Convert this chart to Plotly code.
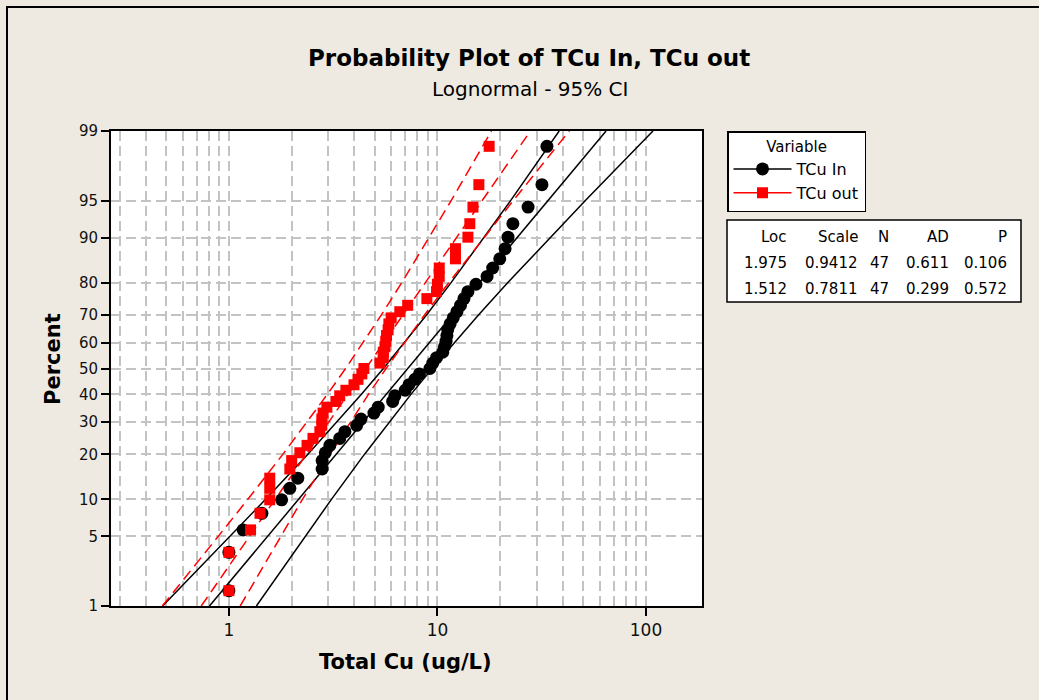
import math
import plotly.graph_objects as go
from statistics import NormalDist

# ---------------- data ----------------
series_names = ["TCu In", "TCu out"]

# sorted observations (ug/L), 47 each
tcu_in = [1.0, 1.0, 1.17, 1.44, 1.79, 1.96, 2.14, 2.8, 2.8, 2.9,
          3.05, 3.4, 3.6, 4.1, 4.3, 4.96, 5.2, 6.1, 6.25, 7.0,
          7.3, 7.8, 8.2, 9.2, 9.5, 9.9, 10.6, 10.8, 11.0, 11.1,
          11.2, 11.5, 11.9, 12.4, 12.9, 13.4, 14.0, 15.3, 17.3, 18.4,
          19.9, 21.1, 21.8, 23.0, 27.2, 31.7, 33.5]
tcu_out = [1.0, 1.0, 1.27, 1.41, 1.57, 1.57, 1.57, 1.96, 2.0, 2.19,
           2.37, 2.53, 2.73, 2.79, 2.79, 2.83, 2.95, 3.26, 3.4, 3.64,
           3.98, 4.16, 4.34, 4.44, 5.3, 5.5, 5.5, 5.6, 5.65, 5.7,
           5.8, 5.85, 6.0, 6.6, 7.2, 8.9, 9.9, 10.0, 10.2, 10.2,
           12.2, 12.2, 14.0, 14.3, 14.8, 15.8, 17.7]

# fitted line and 95% CI, read at these percent levels
pct_levels = [1, 5, 10, 20, 30, 40, 50, 60, 70, 80, 90, 95, 99]
in_fit = [0.807, 1.532, 2.157, 3.264, 4.40, 5.678, 7.207, 9.147, 11.81, 15.91, 24.08, 33.89, 64.36]
in_lo = [0.481, 1.014, 1.500, 2.386, 3.302, 4.320, 5.506, 6.959, 8.860, 11.63, 16.75, 22.43, 38.34]
in_hi = [1.355, 2.315, 3.102, 4.464, 5.862, 7.463, 9.432, 12.02, 15.73, 21.76, 34.62, 51.21, 108.0]
out_fit = [0.737, 1.255, 1.667, 2.351, 3.011, 3.722, 4.536, 5.528, 6.832, 8.753, 12.34, 16.39, 27.91]
out_lo = [0.4795, 0.891, 1.233, 1.813, 2.373, 2.966, 3.628, 4.406, 5.384, 6.750, 9.131, 11.64, 18.16]
out_hi = [1.133, 1.768, 2.253, 3.048, 3.821, 4.669, 5.671, 6.936, 8.669, 11.35, 16.68, 23.09, 42.90]

# statistics table
table_header = ["Loc", "Scale", "N", "AD", "P"]
loc_vals = ["1.975", "1.512"]
scale_vals = ["0.9412", "0.7811"]
n_vals = ["47", "47"]
ad_vals = ["0.611", "0.299"]
p_vals = ["0.106", "0.572"]

# axis ticks
y_tick_pcts = [1, 5, 10, 20, 30, 40, 50, 60, 70, 80, 90, 95, 99]
x_tick_vals = [1, 10, 100]
x_minor_vals = [0.3, 0.4, 0.5, 0.6, 0.7, 0.8, 0.9, 2, 3, 4, 5, 6, 7, 8, 9,
                20, 30, 40, 50, 60, 70, 80, 90]

# ---------------- helpers ----------------
nd = NormalDist()


def zq(p):
    return nd.inv_cdf(p / 100.0)


def median_rank_pct(n):
    return [100.0 * (i - 0.3) / (n + 0.4) for i in range(1, n + 1)]


W, H = 1039, 700
L, R, T, B = 111, 702, 131, 606


def px(x):
    return (x - L) / (R - L)


def py(y):
    return (B - y) / (B - T)


FONT = "DejaVu Sans"
BG = "#EEEAE1"
GRID = "#C3C3C3"

fig = go.Figure()

zl = [zq(p) for p in pct_levels]

# fitted lines and CI
for xs in (in_lo, in_fit, in_hi):
    fig.add_trace(go.Scatter(x=xs, y=zl, mode="lines", showlegend=False,
                             line=dict(color="black", width=1.5), hoverinfo="skip"))
for xs in (out_lo, out_fit, out_hi):
    fig.add_trace(go.Scatter(x=xs, y=zl, mode="lines", showlegend=False,
                             line=dict(color="#FF0000", width=1.5, dash="11px,6px"),
                             hoverinfo="skip"))

# observations
fig.add_trace(go.Scatter(x=tcu_in, y=[zq(p) for p in median_rank_pct(len(tcu_in))],
                         mode="markers", showlegend=False,
                         marker=dict(symbol="circle", size=13, color="black")))
fig.add_trace(go.Scatter(x=tcu_out, y=[zq(p) for p in median_rank_pct(len(tcu_out))],
                         mode="markers", showlegend=False,
                         marker=dict(symbol="square", size=11, color="#FF0000")))

# legend entries
fig.add_trace(go.Scatter(x=[None], y=[None], mode="lines+markers", name=series_names[0],
                         line=dict(color="black", width=1.5),
                         marker=dict(symbol="circle", size=13, color="black")))
fig.add_trace(go.Scatter(x=[None], y=[None], mode="lines+markers", name=series_names[1],
                         line=dict(color="#FF0000", width=1.5),
                         marker=dict(symbol="square", size=11, color="#FF0000")))

fig.update_xaxes(
    type="log",
    range=[math.log10(0.2721), math.log10(185.6)],
    tickmode="array", tickvals=x_tick_vals, ticktext=[str(v) for v in x_tick_vals],
    ticks="outside", ticklen=8, tickwidth=2, tickcolor="black",
    tickfont=dict(family=FONT, size=17, color="#111111"),
    showline=True, linecolor="black", linewidth=2, mirror=True,
    showgrid=True, gridcolor=GRID, gridwidth=2, griddash="10px,5px",
    minor=dict(tickmode="array", tickvals=x_minor_vals, showgrid=True,
               gridcolor=GRID, gridwidth=2, griddash="10px,5px", ticks=""),
    zeroline=False,
)
fig.update_yaxes(
    range=[zq(1), zq(99)],
    tickmode="array", tickvals=[zq(p) for p in y_tick_pcts],
    ticktext=[str(p) for p in y_tick_pcts],
    ticks="outside", ticklen=8, tickwidth=2, tickcolor="black",
    tickfont=dict(family=FONT, size=15, color="#111111"),
    showline=True, linecolor="black", linewidth=2, mirror=True,
    showgrid=True, gridcolor=GRID, gridwidth=2, griddash="10px,5px",
    zeroline=False,
)

annotations = [
    dict(text="<b>Probability Plot of TCu In, TCu out</b>", x=px(529), y=py(58),
         font=dict(family=FONT, size=23, color="black")),
    dict(text="Lognormal - 95% CI", x=px(530), y=py(89),
         font=dict(family=FONT, size=20, color="black")),
    dict(text="<b>Percent</b>", x=px(53), y=py(359), textangle=-90,
         font=dict(family=FONT, size=21, color="black")),
    dict(text="<b>Total Cu (ug/L)</b>", x=px(405), y=py(662),
         font=dict(family=FONT, size=21, color="black")),
]
for a in annotations:
    a.update(xref="paper", yref="paper", showarrow=False, xanchor="center", yanchor="middle")

# statistics table text
col_right = [789, 860, 891, 951, 1009]
row_y = [237, 262.5, 288.5]
rows = [table_header] + [list(r) for r in zip(loc_vals, scale_vals, n_vals, ad_vals, p_vals)]
for r, yy in zip(rows, row_y):
    for txt, xr in zip(r, col_right):
        annotations.append(dict(text=txt, x=px(xr), y=py(yy), xref="paper", yref="paper",
                                showarrow=False, xanchor="right", yanchor="middle",
                                font=dict(family=FONT, size=15, color="black")))

shapes = [
    # statistics table box
    dict(type="rect", xref="paper", yref="paper", x0=px(727), x1=px(1021), y0=py(302), y1=py(220),
         line=dict(color="black", width=1.5), fillcolor="white", layer="below"),
    # outer frame
    dict(type="rect", xref="paper", yref="paper", x0=px(7), x1=px(1100), y0=py(760), y1=py(7),
         line=dict(color="black", width=2), fillcolor="rgba(0,0,0,0)", layer="below"),
]

fig.update_layout(
    width=W, height=H,
    margin=dict(l=L, r=W - R, t=T, b=H - B, pad=0),
    paper_bgcolor=BG, plot_bgcolor="white",
    font=dict(family=FONT, size=15, color="black"),
    annotations=annotations, shapes=shapes,
    showlegend=True,
    legend=dict(x=px(727), y=py(131), xanchor="left", yanchor="top",
                bgcolor="white", bordercolor="black", borderwidth=1.5,
                font=dict(family=FONT, size=16, color="black"),
                title=dict(text="Variable", side="top center", font=dict(family=FONT, size=15)),
                itemwidth=58, tracegroupgap=2),
    hovermode=False,
)

fig.write_html(
    "out.html",
    config={"displayModeBar": False},
    post_script="document.body.style.margin='0';document.body.style.overflow='hidden';"
                "document.body.style.background='" + BG + "';",
)
